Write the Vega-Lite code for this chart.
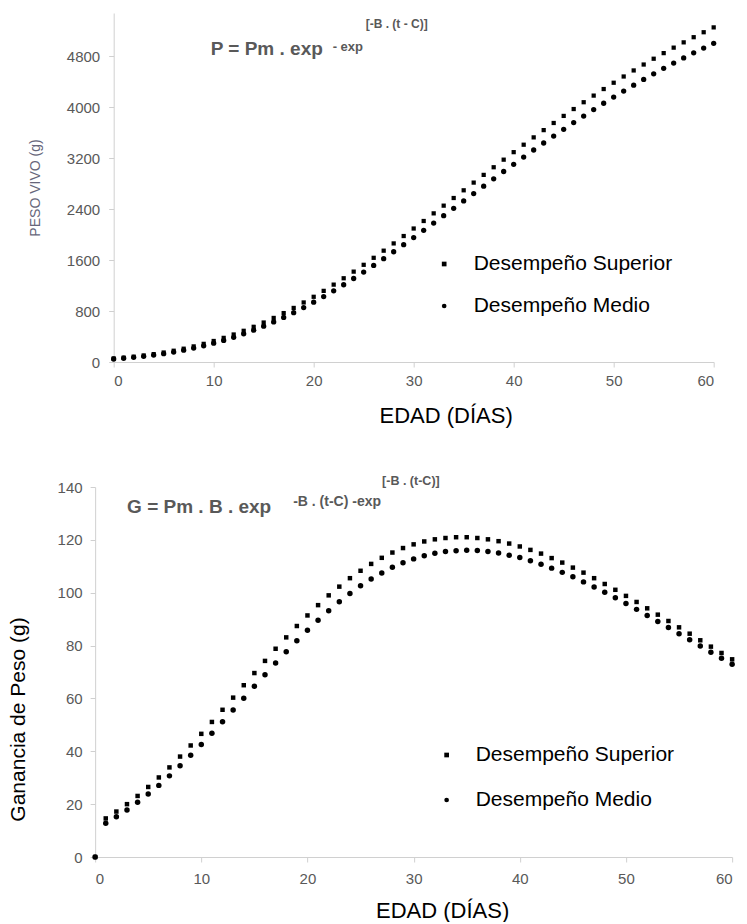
{
"$schema": "https://vega.github.io/schema/vega-lite/v6.json",
"padding": {"left": 7, "top": 13, "right": 0, "bottom": 0},
"background": "white",
"config": {
  "font": "Liberation Sans",
  "view": {"stroke": null},
  "axis": {"grid": false, "domainColor": "#d0d0d0", "tickColor": "#d0d0d0", "tickSize": 5, "labelColor": "#595959", "labelFontSize": 15, "titleFontWeight": "normal", "titleColor": "black"},
  "legend": {"title": null, "labelFontSize": 21, "labelColor": "black", "labelLimit": 0, "rowPadding": 20, "symbolSize": 22, "symbolFillColor": "black", "symbolStrokeColor": "black", "symbolStrokeWidth": 0, "padding": 0}
},
"datasets": {
  "curvas": [
{"t":0,"serie":"Desempeño Superior","peso":55,"ganancia":0},
{"t":1,"serie":"Desempeño Superior","peso":68,"ganancia":14.6},
{"t":2,"serie":"Desempeño Superior","peso":84,"ganancia":17.2},
{"t":3,"serie":"Desempeño Superior","peso":103,"ganancia":20.0},
{"t":4,"serie":"Desempeño Superior","peso":124,"ganancia":23.1},
{"t":5,"serie":"Desempeño Superior","peso":149,"ganancia":26.5},
{"t":6,"serie":"Desempeño Superior","peso":177,"ganancia":30.1},
{"t":7,"serie":"Desempeño Superior","peso":209,"ganancia":33.9},
{"t":8,"serie":"Desempeño Superior","peso":245,"ganancia":38.0},
{"t":9,"serie":"Desempeño Superior","peso":285,"ganancia":42.2},
{"t":10,"serie":"Desempeño Superior","peso":330,"ganancia":46.6},
{"t":11,"serie":"Desempeño Superior","peso":379,"ganancia":51.1},
{"t":12,"serie":"Desempeño Superior","peso":432,"ganancia":55.7},
{"t":13,"serie":"Desempeño Superior","peso":490,"ganancia":60.3},
{"t":14,"serie":"Desempeño Superior","peso":553,"ganancia":65.0},
{"t":15,"serie":"Desempeño Superior","peso":620,"ganancia":69.6},
{"t":16,"serie":"Desempeño Superior","peso":692,"ganancia":74.2},
{"t":17,"serie":"Desempeño Superior","peso":768,"ganancia":78.8},
{"t":18,"serie":"Desempeño Superior","peso":849,"ganancia":83.1},
{"t":19,"serie":"Desempeño Superior","peso":935,"ganancia":87.4},
{"t":20,"serie":"Desempeño Superior","peso":1024,"ganancia":91.4},
{"t":21,"serie":"Desempeño Superior","peso":1117,"ganancia":95.3},
{"t":22,"serie":"Desempeño Superior","peso":1215,"ganancia":99.0},
{"t":23,"serie":"Desempeño Superior","peso":1315,"ganancia":102.3},
{"t":24,"serie":"Desempeño Superior","peso":1419,"ganancia":105.5},
{"t":25,"serie":"Desempeño Superior","peso":1526,"ganancia":108.3},
{"t":26,"serie":"Desempeño Superior","peso":1636,"ganancia":110.9},
{"t":27,"serie":"Desempeño Superior","peso":1748,"ganancia":113.2},
{"t":28,"serie":"Desempeño Superior","peso":1862,"ganancia":115.2},
{"t":29,"serie":"Desempeño Superior","peso":1978,"ganancia":116.9},
{"t":30,"serie":"Desempeño Superior","peso":2096,"ganancia":118.3},
{"t":31,"serie":"Desempeño Superior","peso":2214,"ganancia":119.4},
{"t":32,"serie":"Desempeño Superior","peso":2334,"ganancia":120.2},
{"t":33,"serie":"Desempeño Superior","peso":2455,"ganancia":120.7},
{"t":34,"serie":"Desempeño Superior","peso":2575,"ganancia":121.0},
{"t":35,"serie":"Desempeño Superior","peso":2696,"ganancia":121.0},
{"t":36,"serie":"Desempeño Superior","peso":2817,"ganancia":120.7},
{"t":37,"serie":"Desempeño Superior","peso":2938,"ganancia":120.2},
{"t":38,"serie":"Desempeño Superior","peso":3058,"ganancia":119.5},
{"t":39,"serie":"Desempeño Superior","peso":3177,"ganancia":118.6},
{"t":40,"serie":"Desempeño Superior","peso":3295,"ganancia":117.5},
{"t":41,"serie":"Desempeño Superior","peso":3412,"ganancia":116.2},
{"t":42,"serie":"Desempeño Superior","peso":3527,"ganancia":114.8},
{"t":43,"serie":"Desempeño Superior","peso":3641,"ganancia":113.1},
{"t":44,"serie":"Desempeño Superior","peso":3753,"ganancia":111.4},
{"t":45,"serie":"Desempeño Superior","peso":3864,"ganancia":109.5},
{"t":46,"serie":"Desempeño Superior","peso":3972,"ganancia":107.6},
{"t":47,"serie":"Desempeño Superior","peso":4079,"ganancia":105.5},
{"t":48,"serie":"Desempeño Superior","peso":4183,"ganancia":103.3},
{"t":49,"serie":"Desempeño Superior","peso":4286,"ganancia":101.1},
{"t":50,"serie":"Desempeño Superior","peso":4385,"ganancia":98.8},
{"t":51,"serie":"Desempeño Superior","peso":4483,"ganancia":96.5},
{"t":52,"serie":"Desempeño Superior","peso":4578,"ganancia":94.1},
{"t":53,"serie":"Desempeño Superior","peso":4671,"ganancia":91.7},
{"t":54,"serie":"Desempeño Superior","peso":4762,"ganancia":89.3},
{"t":55,"serie":"Desempeño Superior","peso":4850,"ganancia":86.9},
{"t":56,"serie":"Desempeño Superior","peso":4936,"ganancia":84.5},
{"t":57,"serie":"Desempeño Superior","peso":5019,"ganancia":82.0},
{"t":58,"serie":"Desempeño Superior","peso":5100,"ganancia":79.6},
{"t":59,"serie":"Desempeño Superior","peso":5178,"ganancia":77.2},
{"t":60,"serie":"Desempeño Superior","peso":5254,"ganancia":74.8},
{"t":0,"serie":"Desempeño Medio","peso":47,"ganancia":0},
{"t":1,"serie":"Desempeño Medio","peso":59,"ganancia":12.8},
{"t":2,"serie":"Desempeño Medio","peso":73,"ganancia":15.2},
{"t":3,"serie":"Desempeño Medio","peso":89,"ganancia":17.8},
{"t":4,"serie":"Desempeño Medio","peso":108,"ganancia":20.7},
{"t":5,"serie":"Desempeño Medio","peso":131,"ganancia":23.8},
{"t":6,"serie":"Desempeño Medio","peso":156,"ganancia":27.1},
{"t":7,"serie":"Desempeño Medio","peso":185,"ganancia":30.7},
{"t":8,"serie":"Desempeño Medio","peso":218,"ganancia":34.5},
{"t":9,"serie":"Desempeño Medio","peso":254,"ganancia":38.5},
{"t":10,"serie":"Desempeño Medio","peso":295,"ganancia":42.6},
{"t":11,"serie":"Desempeño Medio","peso":339,"ganancia":46.8},
{"t":12,"serie":"Desempeño Medio","peso":388,"ganancia":51.2},
{"t":13,"serie":"Desempeño Medio","peso":442,"ganancia":55.6},
{"t":14,"serie":"Desempeño Medio","peso":500,"ganancia":60.1},
{"t":15,"serie":"Desempeño Medio","peso":562,"ganancia":64.6},
{"t":16,"serie":"Desempeño Medio","peso":629,"ganancia":69.0},
{"t":17,"serie":"Desempeño Medio","peso":700,"ganancia":73.4},
{"t":18,"serie":"Desempeño Medio","peso":775,"ganancia":77.7},
{"t":19,"serie":"Desempeño Medio","peso":855,"ganancia":81.8},
{"t":20,"serie":"Desempeño Medio","peso":939,"ganancia":85.8},
{"t":21,"serie":"Desempeño Medio","peso":1027,"ganancia":89.6},
{"t":22,"serie":"Desempeño Medio","peso":1118,"ganancia":93.2},
{"t":23,"serie":"Desempeño Medio","peso":1213,"ganancia":96.6},
{"t":24,"serie":"Desempeño Medio","peso":1311,"ganancia":99.7},
{"t":25,"serie":"Desempeño Medio","peso":1412,"ganancia":102.6},
{"t":26,"serie":"Desempeño Medio","peso":1516,"ganancia":105.2},
{"t":27,"serie":"Desempeño Medio","peso":1623,"ganancia":107.5},
{"t":28,"serie":"Desempeño Medio","peso":1731,"ganancia":109.6},
{"t":29,"serie":"Desempeño Medio","peso":1842,"ganancia":111.3},
{"t":30,"serie":"Desempeño Medio","peso":1954,"ganancia":112.8},
{"t":31,"serie":"Desempeño Medio","peso":2067,"ganancia":114.0},
{"t":32,"serie":"Desempeño Medio","peso":2182,"ganancia":114.9},
{"t":33,"serie":"Desempeño Medio","peso":2297,"ganancia":115.6},
{"t":34,"serie":"Desempeño Medio","peso":2413,"ganancia":115.9},
{"t":35,"serie":"Desempeño Medio","peso":2529,"ganancia":116.1},
{"t":36,"serie":"Desempeño Medio","peso":2645,"ganancia":116.0},
{"t":37,"serie":"Desempeño Medio","peso":2761,"ganancia":115.6},
{"t":38,"serie":"Desempeño Medio","peso":2876,"ganancia":115.0},
{"t":39,"serie":"Desempeño Medio","peso":2991,"ganancia":114.2},
{"t":40,"serie":"Desempeño Medio","peso":3104,"ganancia":113.3},
{"t":41,"serie":"Desempeño Medio","peso":3217,"ganancia":112.1},
{"t":42,"serie":"Desempeño Medio","peso":3329,"ganancia":110.8},
{"t":43,"serie":"Desempeño Medio","peso":3439,"ganancia":109.3},
{"t":44,"serie":"Desempeño Medio","peso":3547,"ganancia":107.7},
{"t":45,"serie":"Desempeño Medio","peso":3654,"ganancia":106.0},
{"t":46,"serie":"Desempeño Medio","peso":3759,"ganancia":104.1},
{"t":47,"serie":"Desempeño Medio","peso":3862,"ganancia":102.2},
{"t":48,"serie":"Desempeño Medio","peso":3964,"ganancia":100.2},
{"t":49,"serie":"Desempeño Medio","peso":4063,"ganancia":98.1},
{"t":50,"serie":"Desempeño Medio","peso":4160,"ganancia":95.9},
{"t":51,"serie":"Desempeño Medio","peso":4254,"ganancia":93.7},
{"t":52,"serie":"Desempeño Medio","peso":4347,"ganancia":91.4},
{"t":53,"serie":"Desempeño Medio","peso":4437,"ganancia":89.1},
{"t":54,"serie":"Desempeño Medio","peso":4525,"ganancia":86.8},
{"t":55,"serie":"Desempeño Medio","peso":4611,"ganancia":84.5},
{"t":56,"serie":"Desempeño Medio","peso":4694,"ganancia":82.2},
{"t":57,"serie":"Desempeño Medio","peso":4775,"ganancia":79.8},
{"t":58,"serie":"Desempeño Medio","peso":4854,"ganancia":77.5},
{"t":59,"serie":"Desempeño Medio","peso":4930,"ganancia":75.2},
{"t":60,"serie":"Desempeño Medio","peso":5004,"ganancia":72.9}
  ]
},
"columns": 1,
"align": "each",
"center": true,
"spacing": 48,
"resolve": {"scale": {"shape": "independent"}, "legend": {"shape": "independent"}},
"concat": [
  {
    "width": 600,
    "height": 349,
    "layer": [
      {
        "data": {"name": "curvas"},
        "transform": [{"filter": "datum.serie === 'Desempeño Superior'"}],
        "mark": {"type": "point", "filled": true, "color": "black", "opacity": 1, "size": 18},
        "encoding": {
          "x": {"field": "t", "type": "quantitative", "scale": {"domain": [0, 60], "nice": false},
                "axis": {"values": [0, 10, 20, 30, 40, 50, 60], "title": "EDAD (DÍAS)", "titleFontSize": 22, "titleX": 332, "labelPadding": 6, "titlePadding": 17}},
          "y": {"field": "peso", "type": "quantitative", "scale": {"domain": [0, 5480], "nice": false},
                "axis": {"values": [0, 800, 1600, 2400, 3200, 4000, 4800], "format": "d", "title": "PESO VIVO (g)", "titleFontSize": 14, "titleColor": "#66667a", "labelPadding": 9, "titlePadding": 24}},
          "shape": {"field": "serie", "type": "nominal",
                    "scale": {"domain": ["Desempeño Superior", "Desempeño Medio"], "range": ["square", "circle"]},
                    "legend": {"orient": "none", "legendX": 320, "legendY": 240.5, "labelOffset": 19}}
        }
      },
      {
        "data": {"name": "curvas"},
        "transform": [{"filter": "datum.serie === 'Desempeño Medio'"}],
        "mark": {"type": "point", "filled": true, "color": "black", "opacity": 1, "size": 28},
        "encoding": {
          "x": {"field": "t", "type": "quantitative"},
          "y": {"field": "peso", "type": "quantitative"},
          "shape": {"field": "serie", "type": "nominal"}
        }
      },
      {
        "data": {"values": [{}]},
        "mark": {"type": "text", "text": "P = Pm . exp", "fontSize": 19, "fontWeight": "bold", "color": "#595959", "align": "left", "baseline": "alphabetic"},
        "encoding": {"x": {"datum": 9.7, "type": "quantitative"}, "y": {"datum": 4820, "type": "quantitative"}}
      },
      {
        "data": {"values": [{}]},
        "mark": {"type": "text", "text": "- exp", "fontSize": 13, "fontWeight": "bold", "color": "#595959", "align": "left", "baseline": "middle"},
        "encoding": {"x": {"datum": 21.9, "type": "quantitative"}, "y": {"datum": 4946, "type": "quantitative"}}
      },
      {
        "data": {"values": [{}]},
        "mark": {"type": "text", "text": "[-B . (t - C)]", "fontSize": 12, "fontWeight": "bold", "color": "#595959", "align": "left", "baseline": "middle"},
        "encoding": {"x": {"datum": 25.2, "type": "quantitative"}, "y": {"datum": 5307, "type": "quantitative"}}
      }
    ]
  },
  {
    "width": 637,
    "height": 370,
    "layer": [
      {
        "data": {"name": "curvas"},
        "transform": [{"filter": "datum.serie === 'Desempeño Superior'"}],
        "mark": {"type": "point", "filled": true, "color": "black", "opacity": 1, "size": 20},
        "encoding": {
          "x": {"field": "t", "type": "quantitative", "scale": {"domain": [0, 60], "nice": false},
                "axis": {"values": [0, 10, 20, 30, 40, 50, 60], "title": "EDAD (DÍAS)", "titleFontSize": 22, "titleX": 347, "labelPadding": 9, "titlePadding": 14.5}},
          "y": {"field": "ganancia", "type": "quantitative", "scale": {"domain": [0, 140], "nice": false},
                "axis": {"values": [0, 20, 40, 60, 80, 100, 120, 140], "format": "d", "title": "Ganancia de Peso (g)", "titleFontSize": 21, "titleColor": "black", "titleY": 232, "labelPadding": 8, "titlePadding": 29}},
          "shape": {"field": "serie", "type": "nominal",
                    "scale": {"domain": ["Desempeño Superior", "Desempeño Medio"], "range": ["square", "circle"]},
                    "legend": {"orient": "none", "legendX": 341, "legendY": 257.5, "labelOffset": 18.5, "rowPadding": 23}}
        }
      },
      {
        "data": {"name": "curvas"},
        "transform": [{"filter": "datum.serie === 'Desempeño Medio'"}],
        "mark": {"type": "point", "filled": true, "color": "black", "opacity": 1, "size": 30},
        "encoding": {
          "x": {"field": "t", "type": "quantitative"},
          "y": {"field": "ganancia", "type": "quantitative"},
          "shape": {"field": "serie", "type": "nominal"}
        }
      },
      {
        "data": {"values": [{}]},
        "mark": {"type": "text", "text": "G = Pm . B . exp", "fontSize": 19, "fontWeight": "bold", "color": "#595959", "align": "left", "baseline": "alphabetic"},
        "encoding": {"x": {"datum": 3.01, "type": "quantitative"}, "y": {"datum": 130.2, "type": "quantitative"}}
      },
      {
        "data": {"values": [{}]},
        "mark": {"type": "text", "text": "-B . (t-C) -exp", "fontSize": 14, "fontWeight": "bold", "color": "#595959", "align": "left", "baseline": "middle"},
        "encoding": {"x": {"datum": 18.65, "type": "quantitative"}, "y": {"datum": 134.3, "type": "quantitative"}}
      },
      {
        "data": {"values": [{}]},
        "mark": {"type": "text", "text": "[-B . (t-C)]", "fontSize": 12.5, "fontWeight": "bold", "color": "#595959", "align": "left", "baseline": "middle"},
        "encoding": {"x": {"datum": 27.03, "type": "quantitative"}, "y": {"datum": 142.3, "type": "quantitative"}}
      }
    ]
  }
]
}
